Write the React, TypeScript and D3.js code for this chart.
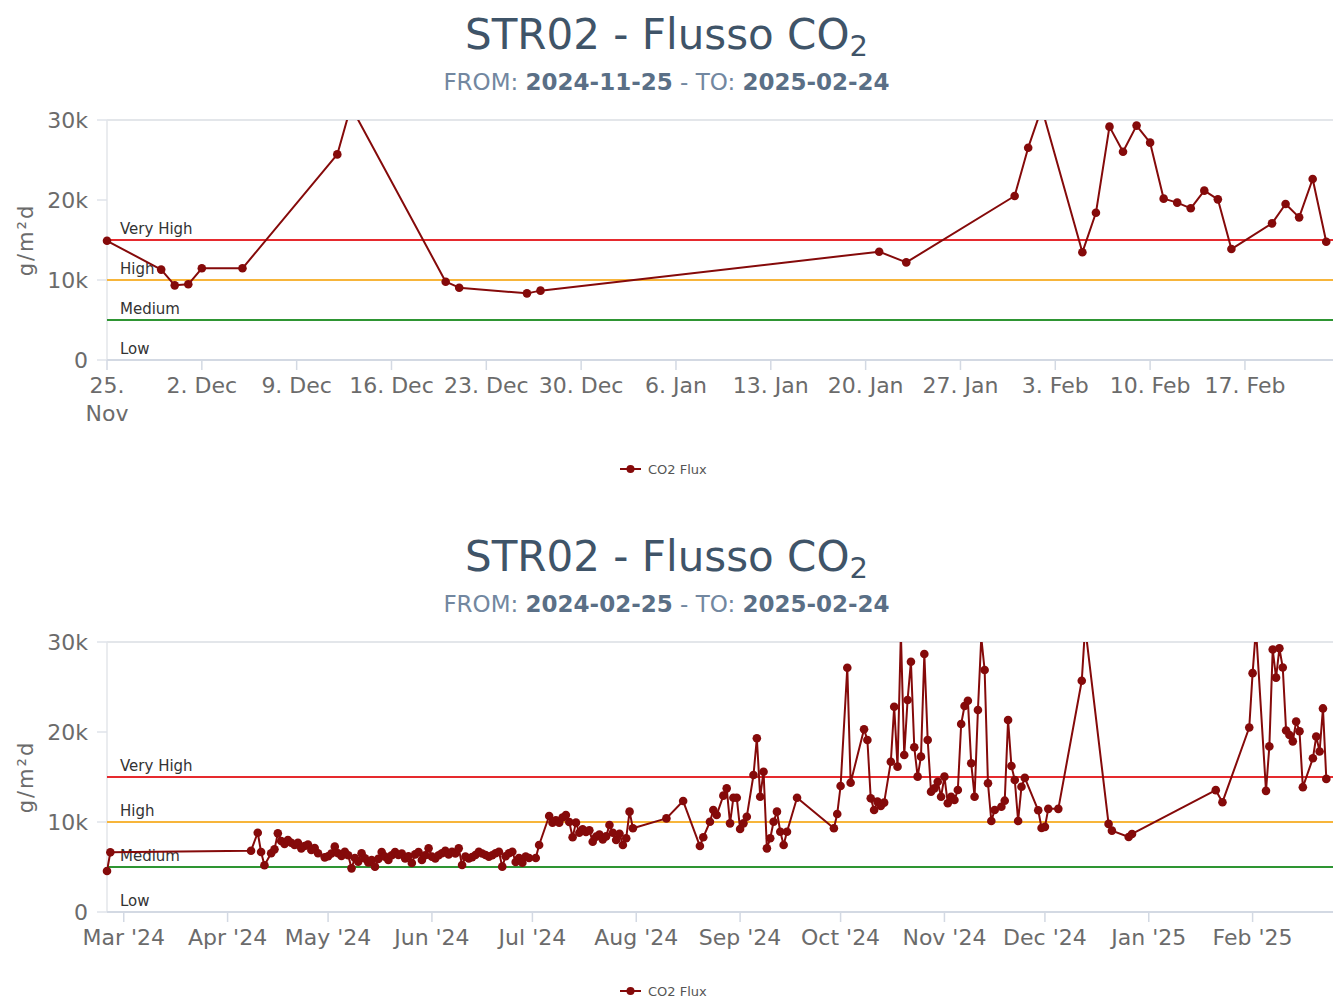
import { useEffect, useRef } from "react";
import * as d3 from "d3";

// daily CO2 flux readings (g/m²d), one value per date
const fluxDates = [
  "2024-02-25", "2024-02-26",
  "2024-04-08", "2024-04-10", "2024-04-11", "2024-04-12", "2024-04-14", "2024-04-15", "2024-04-16",
  "2024-04-17", "2024-04-18", "2024-04-19", "2024-04-20", "2024-04-21", "2024-04-22", "2024-04-23",
  "2024-04-24", "2024-04-25", "2024-04-26", "2024-04-27", "2024-04-28", "2024-04-30",
  "2024-05-01", "2024-05-02", "2024-05-03", "2024-05-04", "2024-05-05", "2024-05-06", "2024-05-07",
  "2024-05-08", "2024-05-09", "2024-05-10", "2024-05-11", "2024-05-12", "2024-05-13", "2024-05-14",
  "2024-05-15", "2024-05-16", "2024-05-17", "2024-05-18", "2024-05-19", "2024-05-20", "2024-05-21",
  "2024-05-22", "2024-05-23", "2024-05-24", "2024-05-25", "2024-05-26", "2024-05-27", "2024-05-28",
  "2024-05-29", "2024-05-30", "2024-05-31",
  "2024-06-01", "2024-06-02", "2024-06-03", "2024-06-04", "2024-06-05", "2024-06-06", "2024-06-07",
  "2024-06-08", "2024-06-09", "2024-06-10", "2024-06-11", "2024-06-12", "2024-06-13", "2024-06-14",
  "2024-06-15", "2024-06-16", "2024-06-17", "2024-06-18", "2024-06-19", "2024-06-20", "2024-06-21",
  "2024-06-22", "2024-06-23", "2024-06-24", "2024-06-25", "2024-06-26", "2024-06-27", "2024-06-28",
  "2024-06-29", "2024-06-30",
  "2024-07-02", "2024-07-03", "2024-07-06", "2024-07-07", "2024-07-08", "2024-07-09", "2024-07-10",
  "2024-07-11", "2024-07-12", "2024-07-13", "2024-07-14", "2024-07-15", "2024-07-16", "2024-07-17",
  "2024-07-18", "2024-07-19", "2024-07-20", "2024-07-21", "2024-07-22", "2024-07-23", "2024-07-24",
  "2024-07-25", "2024-07-26", "2024-07-27", "2024-07-28", "2024-07-29", "2024-07-30", "2024-07-31",
  "2024-08-10", "2024-08-15", "2024-08-20", "2024-08-21", "2024-08-23", "2024-08-24", "2024-08-25",
  "2024-08-27", "2024-08-28", "2024-08-29", "2024-08-30", "2024-08-31",
  "2024-09-01", "2024-09-02", "2024-09-03", "2024-09-05", "2024-09-06", "2024-09-07", "2024-09-08",
  "2024-09-09", "2024-09-10", "2024-09-11", "2024-09-12", "2024-09-13", "2024-09-14", "2024-09-15",
  "2024-09-18", "2024-09-29", "2024-09-30",
  "2024-10-01", "2024-10-03", "2024-10-04", "2024-10-08", "2024-10-09", "2024-10-10", "2024-10-11",
  "2024-10-12", "2024-10-13", "2024-10-14", "2024-10-16", "2024-10-17", "2024-10-18", "2024-10-19",
  "2024-10-20", "2024-10-21", "2024-10-22", "2024-10-23", "2024-10-24", "2024-10-25", "2024-10-26",
  "2024-10-27", "2024-10-28", "2024-10-29", "2024-10-30", "2024-10-31",
  "2024-11-01", "2024-11-02", "2024-11-03", "2024-11-04", "2024-11-05", "2024-11-06", "2024-11-07",
  "2024-11-08", "2024-11-09", "2024-11-10", "2024-11-11", "2024-11-12", "2024-11-13", "2024-11-14",
  "2024-11-15", "2024-11-16", "2024-11-18", "2024-11-19", "2024-11-20", "2024-11-21", "2024-11-22",
  "2024-11-23", "2024-11-24", "2024-11-25", "2024-11-29", "2024-11-30",
  "2024-12-01", "2024-12-02", "2024-12-05", "2024-12-12", "2024-12-13", "2024-12-20", "2024-12-21",
  "2024-12-26", "2024-12-27",
  "2025-01-21", "2025-01-23", "2025-01-31",
  "2025-02-01", "2025-02-02", "2025-02-05", "2025-02-06", "2025-02-07", "2025-02-08", "2025-02-09",
  "2025-02-10", "2025-02-11", "2025-02-12", "2025-02-13", "2025-02-14", "2025-02-15", "2025-02-16",
  "2025-02-19", "2025-02-20", "2025-02-21", "2025-02-22", "2025-02-23",
];

const fluxValues = [
  4560, 6630,
  6810, 8810, 6670, 5190, 6520, 6960, 8740,
  7890, 7560, 8000, 7700, 7440, 7700, 7070,
  7330, 7500, 6890, 7100, 6520, 6070,
  6200, 6500, 7260, 6520, 6220, 6700, 6300,
  4850, 6000, 5600, 6520, 5960, 5500, 5780,
  5040, 5900, 6670, 6150, 5780, 6300, 6670,
  6330, 6500, 5960, 6200, 5440, 6400, 6670,
  5780, 6300, 7070,
  6150, 5960, 6300, 6520, 6810, 6400, 6700,
  6500, 7070, 5220, 6150, 5960, 6100, 6330,
  6700, 6500, 6330, 6150, 6300, 6520, 6700,
  5040, 6200, 6520, 6700, 5560, 6000, 5480,
  6150, 6000,
  6000, 7440, 10670, 9930, 10200, 9930, 10500,
  10780, 10000, 8300, 9930, 8810, 9200, 8900,
  9070, 7810, 8370, 8600, 8070, 8400, 9670,
  8810, 8000, 8700, 7440, 8200, 11150, 9300,
  10400, 12330, 7330, 8300, 10030, 11330, 10780,
  12930, 13740, 9850, 12700, 12700,
  9220, 9850, 10590, 15220, 19300, 12810, 15590,
  7070, 8190, 10030, 11150, 8920, 7440, 8920,
  12700, 9300, 10890,
  14000, 27140, 14370, 20300, 19110, 12630, 11330,
  12260, 11780, 12150, 16700, 22810, 16150, 31000,
  17440, 23560, 27810, 18300, 15040, 17260, 28670,
  19110, 13370, 13740, 14480, 12810,
  15040, 12080, 12810, 12440, 13560, 20890, 22890,
  23480, 16520, 12810, 22440, 30500, 26890, 14300,
  10110, 11330, 11700, 12370, 21330, 16220, 14670,
  10110, 13920, 14900, 11300, 9330,
  9460, 11460, 11460, 25700, 31700, 9790, 9040,
  8330, 8670,
  13540, 12200, 20500,
  26540, 31500, 13460, 18400, 29170, 26040, 29300,
  27170, 20170, 19670, 18960, 21170, 20080, 13870,
  17080, 19500, 17830, 22620, 14790,
];

// threshold plot lines
const levelValues = [15000, 10000, 5000, 0];
const levelNames = ["Very High", "High", "Medium", "Low"];
const levelColors = ["#e62a2e", "#f7b53a", "#2e9533", "none"];

const yTicks = [0, 10000, 20000, 30000];

const W = 1333;
const FONT = "'DejaVu Sans', Verdana, sans-serif";
const SERIES_COLOR = "#850a0a";

type ChartOpts = {
  offsetY: number;
  plotBottom: number;
  from: string;
  to: string;
  start: Date;
  end: Date;
  weekly: boolean;
};

function drawChart(svg: any, o: ChartOpts, id: string) {
  const margin = { left: 107, right: W, top: 120 };
  const parse = d3.timeParse("%Y-%m-%d");
  const data = fluxDates
    .map((d, i) => ({ x: parse(d) as Date, y: fluxValues[i] }))
    .filter((d) => d.x >= o.start);

  const x = d3.scaleTime().domain([o.start, o.end]).range([margin.left, margin.right]);
  const y = d3.scaleLinear().domain([0, 30000]).range([o.plotBottom, margin.top]);

  const g = svg.append("g").attr("transform", "translate(0," + o.offsetY + ")");

  // title
  const title = g
    .append("text")
    .attr("x", W / 2)
    .attr("y", 49)
    .attr("text-anchor", "middle")
    .style("font-family", FONT)
    .style("font-size", "42px")
    .style("fill", "#3f5468");
  title.append("tspan").text("STR02 - Flusso CO");
  title.append("tspan").attr("dy", 7).style("font-size", "29px").text("2");

  const sub = g
    .append("text")
    .attr("x", W / 2)
    .attr("y", 90)
    .attr("text-anchor", "middle")
    .style("font-family", FONT)
    .style("font-size", "23px")
    .style("fill", "#7287a0");
  sub.append("tspan").text("FROM: ");
  sub.append("tspan").style("font-weight", "bold").style("fill", "#5a6f86").text(o.from);
  sub.append("tspan").text(" - TO: ");
  sub.append("tspan").style("font-weight", "bold").style("fill", "#5a6f86").text(o.to);

  // plot frame
  g.append("line")
    .attr("x1", margin.left).attr("x2", W)
    .attr("y1", margin.top).attr("y2", margin.top)
    .attr("stroke", "#e3e6ea").attr("stroke-width", 2);
  g.append("line")
    .attr("x1", margin.left).attr("x2", margin.left)
    .attr("y1", margin.top).attr("y2", o.plotBottom)
    .attr("stroke", "#e3e6ea").attr("stroke-width", 1.5);

  // y axis
  yTicks.forEach((t) => {
    g.append("line")
      .attr("x1", margin.left - 10).attr("x2", margin.left)
      .attr("y1", y(t)).attr("y2", y(t))
      .attr("stroke", "#dfe3ea").attr("stroke-width", 1.5);
    g.append("text")
      .attr("x", 88)
      .attr("y", y(t))
      .attr("dy", "0.36em")
      .attr("text-anchor", "end")
      .style("font-family", FONT)
      .style("font-size", "22px")
      .style("fill", "#6b6b6b")
      .text(t === 0 ? "0" : t / 1000 + "k");
  });
  g.append("text")
    .attr("transform", "translate(33," + (margin.top + o.plotBottom) / 2 + ")rotate(-90)")
    .attr("text-anchor", "middle")
    .style("font-family", FONT)
    .style("font-size", "21px")
    .style("letter-spacing", "2px")
    .style("fill", "#6b6b6b")
    .text("g/m²d");

  // x axis
  g.append("line")
    .attr("x1", margin.left).attr("x2", W)
    .attr("y1", o.plotBottom).attr("y2", o.plotBottom)
    .attr("stroke", "#d3d9e3").attr("stroke-width", 2);

  const ticks = o.weekly
    ? d3.timeMonday.every(1)!.range(o.start, o.end)
    : d3.timeMonth.every(1)!.range(o.start, o.end);
  const fmt = o.weekly ? d3.timeFormat("%-d. %b") : d3.timeFormat("%b '%y");
  ticks.forEach((t, i) => {
    g.append("line")
      .attr("x1", x(t)).attr("x2", x(t))
      .attr("y1", o.plotBottom).attr("y2", o.plotBottom + 10)
      .attr("stroke", "#d3d9e3").attr("stroke-width", 1.5);
    const label = g
      .append("text")
      .attr("x", x(t))
      .attr("y", o.plotBottom + 33)
      .attr("text-anchor", "middle")
      .style("font-family", FONT)
      .style("font-size", "22px")
      .style("fill", "#6b6b6b");
    const s = fmt(t);
    if (o.weekly && i === 0) {
      const parts = s.split(" ");
      label.append("tspan").attr("x", x(t)).text(parts[0]);
      label.append("tspan").attr("x", x(t)).attr("dy", 28).text(parts[1]);
    } else {
      label.text(s);
    }
  });

  // threshold lines
  levelValues.forEach((v, i) => {
    if (levelColors[i] !== "none") {
      g.append("line")
        .attr("x1", margin.left).attr("x2", W)
        .attr("y1", y(v)).attr("y2", y(v))
        .attr("stroke", levelColors[i]).attr("stroke-width", 2);
    }
    g.append("text")
      .attr("x", 120)
      .attr("y", y(v) - 6)
      .style("font-family", FONT)
      .style("font-size", "15px")
      .style("fill", "#333")
      .text(levelNames[i]);
  });

  // clip
  const defs = g.append("defs");
  defs.append("clipPath").attr("id", id + "-line")
    .append("rect")
    .attr("x", margin.left).attr("y", margin.top)
    .attr("width", W - margin.left).attr("height", o.plotBottom - margin.top);
  defs.append("clipPath").attr("id", id + "-mk")
    .append("rect")
    .attr("x", margin.left - 6).attr("y", margin.top)
    .attr("width", W - margin.left + 6).attr("height", o.plotBottom - margin.top + 6);

  // series
  g.append("path")
    .datum(data)
    .attr("clip-path", "url(#" + id + "-line)")
    .attr("fill", "none")
    .attr("stroke", SERIES_COLOR)
    .attr("stroke-width", 2)
    .attr("stroke-linejoin", "round")
    .attr("d", d3.line<any>().x((d) => x(d.x)).y((d) => y(d.y)));

  g.append("g")
    .attr("clip-path", "url(#" + id + "-mk)")
    .selectAll("circle")
    .data(data)
    .join("circle")
    .attr("cx", (d: any) => x(d.x))
    .attr("cy", (d: any) => y(d.y))
    .attr("r", 4.3)
    .attr("fill", SERIES_COLOR);

  // legend
  const ly = 469;
  g.append("line")
    .attr("x1", 620).attr("x2", 641)
    .attr("y1", ly).attr("y2", ly)
    .attr("stroke", SERIES_COLOR).attr("stroke-width", 2);
  g.append("circle").attr("cx", 630.5).attr("cy", ly).attr("r", 4).attr("fill", SERIES_COLOR);
  g.append("text")
    .attr("x", 648)
    .attr("y", ly + 5)
    .style("font-family", FONT)
    .style("font-size", "13px")
    .style("fill", "#555")
    .text("CO2 Flux");
}

export default function App() {
  const ref = useRef<SVGSVGElement>(null);

  useEffect(() => {
    const svg = d3.select(ref.current);
    svg.selectAll("*").remove();
    svg.append("rect").attr("width", W).attr("height", 999).attr("fill", "white");

    drawChart(
      svg,
      {
        offsetY: 0,
        plotBottom: 360,
        from: "2024-11-25",
        to: "2025-02-24",
        start: new Date(2024, 10, 25),
        end: new Date(2025, 1, 23, 12),
        weekly: true,
      },
      "c1"
    );
    drawChart(
      svg,
      {
        offsetY: 522,
        plotBottom: 390,
        from: "2024-02-25",
        to: "2025-02-24",
        start: new Date(2024, 1, 25),
        end: new Date(2025, 1, 25),
        weekly: false,
      },
      "c2"
    );
  }, []);

  return (
    <svg
      ref={ref}
      width={W}
      height={999}
      style={{ position: "absolute", left: 0, top: 0 }}
    />
  );
}
